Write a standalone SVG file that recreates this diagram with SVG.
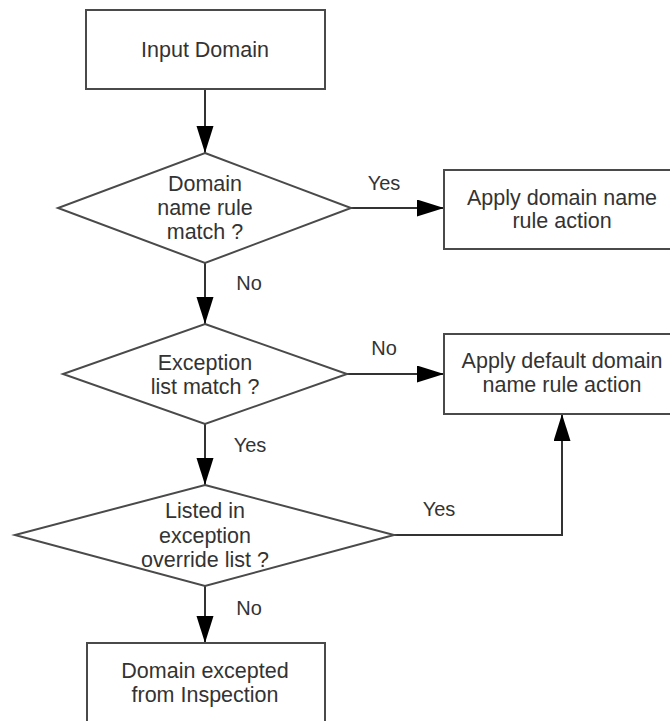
<svg xmlns="http://www.w3.org/2000/svg" width="670" height="721" viewBox="0 0 670 721">
<style>
.shape{fill:#fff;stroke:#4a4a4a;stroke-width:2}
.conn{fill:none;stroke:#333;stroke-width:2}
.t{font-family:"Liberation Sans",Arial,sans-serif;font-size:21.5px;fill:#333;text-anchor:middle}
.lbl{font-family:"Liberation Sans",Arial,sans-serif;font-size:20px;fill:#333;text-anchor:middle}
</style>
<defs>
<marker id="arr" markerUnits="userSpaceOnUse" markerWidth="28" markerHeight="18" refX="27" refY="8.5" orient="auto">
<path d="M0,0 L27,8.5 L0,17 z" fill="#000"/>
</marker>
</defs>
<rect width="670" height="721" fill="#fff"/>
<g id="connectors">
<line class="conn" x1="205" y1="89" x2="205" y2="153" marker-end="url(#arr)"/>
<line class="conn" x1="351" y1="208" x2="444" y2="208" marker-end="url(#arr)"/>
<text class="lbl" x="384" y="190">Yes</text>
<line class="conn" x1="205" y1="263" x2="205" y2="324" marker-end="url(#arr)"/>
<text class="lbl" x="249" y="290">No</text>
<line class="conn" x1="347" y1="374" x2="444" y2="374" marker-end="url(#arr)"/>
<text class="lbl" x="384" y="355">No</text>
<line class="conn" x1="205" y1="424" x2="205" y2="485" marker-end="url(#arr)"/>
<text class="lbl" x="250" y="452">Yes</text>
<polyline class="conn" points="394,535 562,535 562,414" marker-end="url(#arr)"/>
<text class="lbl" x="439" y="516">Yes</text>
<line class="conn" x1="205" y1="586" x2="205" y2="643" marker-end="url(#arr)"/>
<text class="lbl" x="249" y="615">No</text>
</g>
<g id="input">
<rect class="shape" x="86" y="10" width="239" height="79"/>
<text class="t" x="205" y="57">Input Domain</text>
</g>
<g id="d1">
<polygon class="shape" points="205,153 351,208 205,263 58,208"/>
<text class="t" x="205" y="191">Domain</text>
<text class="t" x="205" y="215">name rule</text>
<text class="t" x="205" y="239">match ?</text>
</g>
<g id="apply">
<rect class="shape" x="444" y="170" width="239" height="79"/>
<text class="t" x="562" y="205">Apply domain name</text>
<text class="t" x="562" y="228">rule action</text>
</g>
<g id="d2">
<polygon class="shape" points="205,324 347,374 205,424 63,374"/>
<text class="t" x="205" y="370">Exception</text>
<text class="t" x="205" y="394">list match ?</text>
</g>
<g id="default">
<rect class="shape" x="444" y="334" width="239" height="80"/>
<text class="t" x="562" y="368">Apply default domain</text>
<text class="t" x="562" y="392">name rule action</text>
</g>
<g id="d3">
<polygon class="shape" points="205,485 394,535 205,586 15,535"/>
<text class="t" x="205" y="518">Listed in</text>
<text class="t" x="205" y="543">exception</text>
<text class="t" x="205" y="567">override list ?</text>
</g>
<g id="excepted">
<rect class="shape" x="87" y="643" width="238" height="90"/>
<text class="t" x="205" y="678">Domain excepted</text>
<text class="t" x="205" y="702">from Inspection</text>
</g>
</svg>
